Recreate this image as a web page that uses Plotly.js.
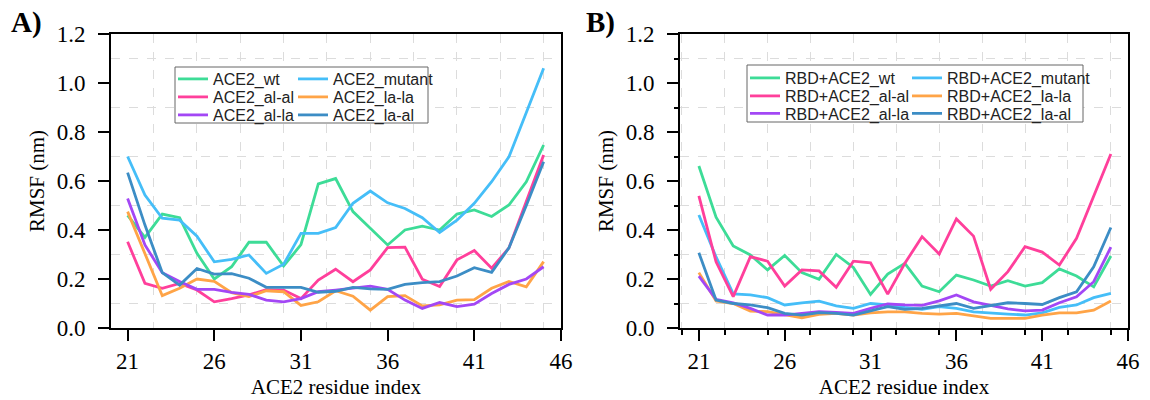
<!DOCTYPE html>
<html><head><meta charset="utf-8">
<script src="https://cdn.plot.ly/plotly-3.0.1.min.js"></script>
<style>body{margin:0;background:#fff}#chart{width:1150px;height:400px}</style>
</head><body><div id="chart"></div>
<script>
const residues = [21,22,23,24,25,26,27,28,29,30,31,32,33,34,35,36,37,38,39,40,41,42,43,44,45];
const variants = ['wt','mutant','al-al','la-la','al-la','la-al'];
const colors = ['#3ddc97','#45bef8','#ff3f9b','#ffa447','#a347f5','#3c8dc5'];

// Panel A: ACE2 alone
const A_wt     = [0.46,0.37,0.465,0.45,0.305,0.20,0.25,0.35,0.35,0.253,0.34,0.588,0.61,0.475,0.407,0.339,0.40,0.416,0.40,0.465,0.482,0.455,0.502,0.597,0.747];
const A_mutant = [0.70,0.543,0.448,0.44,0.375,0.27,0.28,0.298,0.223,0.26,0.386,0.386,0.41,0.509,0.559,0.511,0.488,0.45,0.39,0.44,0.509,0.597,0.699,0.88,1.06];
const A_alal   = [0.352,0.182,0.162,0.182,0.155,0.107,0.12,0.135,0.157,0.155,0.12,0.196,0.24,0.189,0.237,0.328,0.33,0.199,0.169,0.278,0.316,0.244,0.327,0.52,0.706];
const A_lala   = [0.475,0.303,0.132,0.162,0.20,0.19,0.144,0.128,0.152,0.148,0.092,0.107,0.152,0.13,0.073,0.128,0.132,0.09,0.094,0.114,0.116,0.162,0.19,0.168,0.271];
const A_alla   = [0.529,0.339,0.226,0.19,0.158,0.158,0.145,0.137,0.114,0.107,0.12,0.148,0.155,0.162,0.171,0.158,0.114,0.08,0.104,0.087,0.097,0.141,0.178,0.20,0.25];
const A_laal   = [0.634,0.42,0.226,0.175,0.243,0.22,0.222,0.203,0.166,0.166,0.166,0.146,0.15,0.166,0.16,0.158,0.178,0.185,0.189,0.212,0.246,0.227,0.327,0.50,0.679];

// Panel B: RBD + ACE2 complex
const B_wt     = [0.661,0.452,0.335,0.298,0.237,0.296,0.226,0.199,0.30,0.247,0.137,0.22,0.264,0.171,0.148,0.216,0.196,0.171,0.193,0.171,0.185,0.241,0.212,0.168,0.294];
const B_mutant = [0.461,0.29,0.139,0.135,0.124,0.094,0.103,0.11,0.09,0.08,0.10,0.094,0.084,0.076,0.087,0.08,0.066,0.06,0.057,0.053,0.062,0.084,0.094,0.124,0.141];
const B_alal   = [0.539,0.27,0.128,0.291,0.273,0.171,0.237,0.233,0.166,0.273,0.266,0.138,0.264,0.373,0.302,0.445,0.375,0.158,0.23,0.332,0.31,0.257,0.366,0.54,0.71];
const B_lala   = [0.226,0.11,0.10,0.069,0.067,0.056,0.042,0.056,0.06,0.053,0.062,0.066,0.066,0.06,0.057,0.06,0.05,0.039,0.039,0.039,0.053,0.062,0.062,0.073,0.11];
const B_alla   = [0.212,0.117,0.103,0.08,0.053,0.053,0.06,0.067,0.064,0.06,0.08,0.098,0.094,0.092,0.111,0.135,0.107,0.094,0.078,0.07,0.073,0.103,0.127,0.189,0.33];
const B_laal   = [0.307,0.114,0.10,0.094,0.083,0.06,0.053,0.063,0.06,0.053,0.07,0.087,0.076,0.08,0.09,0.10,0.08,0.09,0.103,0.10,0.096,0.124,0.148,0.25,0.41];

const seriesA = [A_wt,A_mutant,A_alal,A_lala,A_alla,A_laal];
const seriesB = [B_wt,B_mutant,B_alal,B_lala,B_alla,B_laal];

const W = 1150, H = 400;
const serif = 'Liberation Serif, Times New Roman, serif';
const sans = 'Liberation Sans, Arial, sans-serif';

// legend grid (pixels): column left edges and row centres, per panel
const legGrid = {
  A: {cols:[175, 295], rows:[79, 97, 115]},
  B: {cols:[747, 909], rows:[78, 96, 113.5]}
};

const traces = [];
const legends = {};
let legN = 0;
function addPanel(series, prefix, xa, ya, grid){
  series.forEach((ys,i)=>{
    legN++;
    const id = legN === 1 ? 'legend' : 'legend' + legN;
    const col = i % 2, row = Math.floor(i / 2);
    legends[id] = {orientation:'v', x:(grid.cols[col]-2)/W, xanchor:'left',
      y:(H - grid.rows[row])/H, yanchor:'middle',
      bgcolor:'rgba(0,0,0,0)', borderwidth:0, tracegroupgap:0, itemwidth:30,
      font:{family:sans,size:16,color:'#222'}};
    traces.push({x:residues, y:ys, type:'scatter', mode:'lines', name:prefix + variants[i],
      line:{color:colors[i], width:2.8}, xaxis:xa, yaxis:ya, legend:id});
  });
}
addPanel(seriesA, 'ACE2_', 'x', 'y', legGrid.A);
addPanel(seriesB, 'RBD+ACE2_', 'x2', 'y2', legGrid.B);

function xAx(domain, anchor, range, minorTicks){
  return {domain:domain, anchor:anchor, range:range, tick0:21, dtick:5,
    ticks:'outside', ticklen:11, tickwidth:2, tickcolor:'#000',
    showline:true, linewidth:2, linecolor:'#000', mirror:true,
    showgrid:false, zeroline:false,
    tickfont:{family:serif,size:23,color:'#000'},
    title:{text:'ACE2 residue index', font:{family:serif,size:21,color:'#000'}, standoff:7},
    minor:{dtick:2.5, showgrid:true, gridcolor:'#dcdcdc', griddash:'dash', gridwidth:1,
      ticks: minorTicks ? 'outside' : '', ticklen:5, tickwidth:2, tickcolor:'#000'}};
}
function yAx(domain, anchor, minorTicks){
  return {domain:domain, anchor:anchor, range:[0,1.2], tick0:0, dtick:0.2, tickformat:'.1f',
    ticks:'outside', ticklen:11, tickwidth:2, tickcolor:'#000', ticklabelstandoff:8,
    showline:true, linewidth:2, linecolor:'#000', mirror:true,
    showgrid:false, zeroline:false,
    tickfont:{family:serif,size:23,color:'#000'},
    title:{text:'RMSF (nm)', font:{family:serif,size:21,color:'#000'}, standoff:6},
    minor:{dtick:0.1, showgrid:true, gridcolor:'#dcdcdc', griddash:'dash', gridwidth:1,
      ticks: minorTicks ? 'outside' : '', ticklen:4, tickwidth:2, tickcolor:'#000'}};
}

const yDom = [0.18, 0.915];
const layout = Object.assign({
  width:W, height:H, margin:{l:0,r:0,t:0,b:0},
  paper_bgcolor:'#fff', plot_bgcolor:'#fff',
  showlegend:true,
  xaxis: xAx([0.0965,0.4878],'y',[20.04,46],false),
  yaxis: yAx(yDom,'x',false),
  xaxis2: xAx([0.5913,0.9809],'y2',[19.9,46],true),
  yaxis2: yAx(yDom,'x2',true),
  shapes:[
    {type:'rect', xref:'paper', yref:'paper', x0:175/W, x1:428/W, y0:(H-123)/H, y1:(H-67)/H,
     fillcolor:'#fff', line:{color:'#666',width:1}, layer:'above'},
    {type:'rect', xref:'paper', yref:'paper', x0:747/W, x1:1083/W, y0:(H-122)/H, y1:(H-65)/H,
     fillcolor:'#fff', line:{color:'#666',width:1}, layer:'above'}
  ],
  annotations:[
    {text:'<b>A)</b>', xref:'paper', yref:'paper', x:0.008, y:0.99, xanchor:'left', yanchor:'top', showarrow:false,
     font:{family:serif,size:29,color:'#000'}},
    {text:'<b>B)</b>', xref:'paper', yref:'paper', x:0.508, y:0.99, xanchor:'left', yanchor:'top', showarrow:false,
     font:{family:serif,size:29,color:'#000'}}
  ]
}, legends);
Plotly.newPlot('chart', traces, layout, {displayModeBar:false, staticPlot:true});
</script>
</body></html>
